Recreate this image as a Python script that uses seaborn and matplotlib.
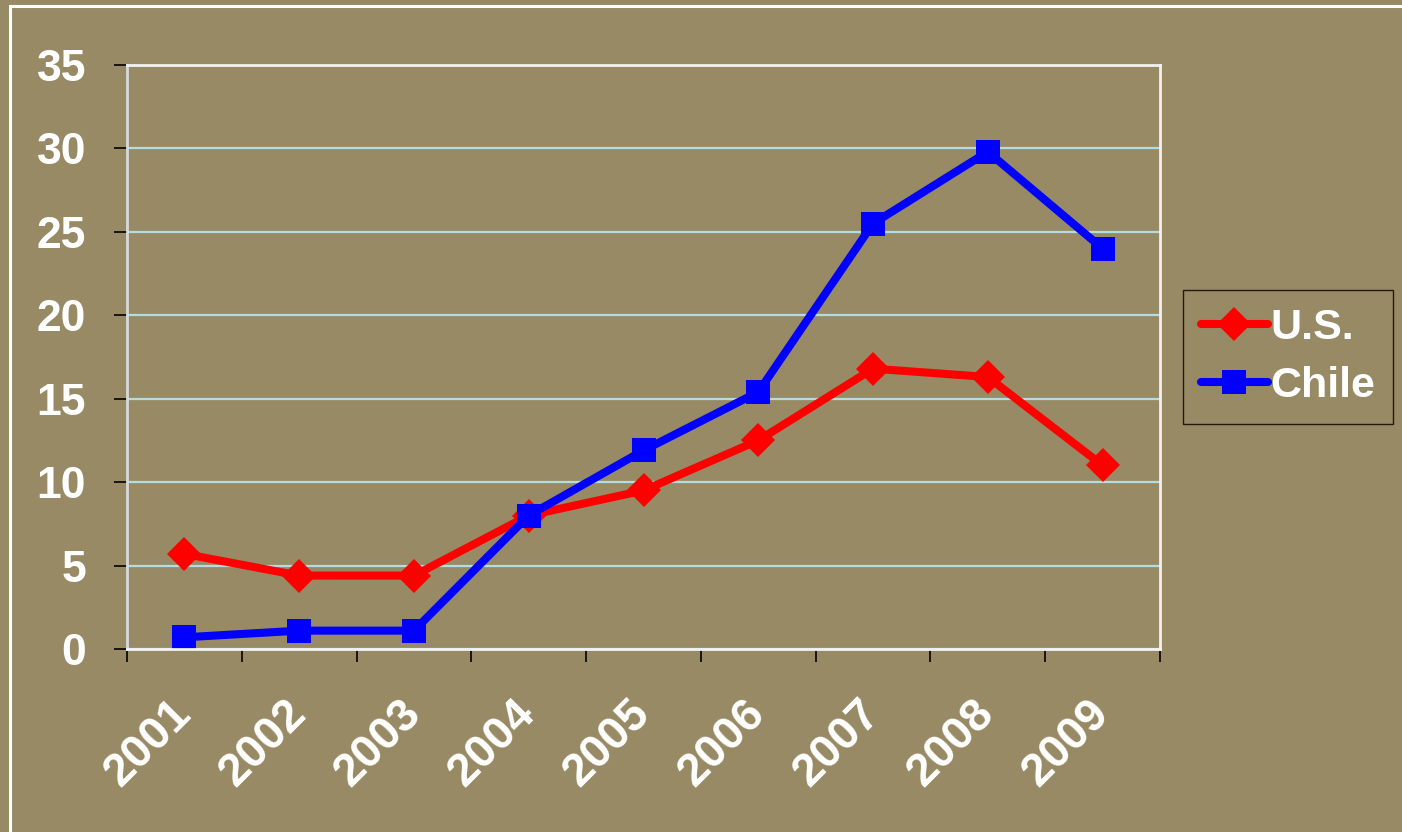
import pandas as pd
import matplotlib.pyplot as plt
import seaborn as sns
from matplotlib.patches import Rectangle

# 數據
years = ['2001', '2002', '2003', '2004', '2005', '2006', '2007', '2008', '2009']
us_values = [5.7, 4.4, 4.4, 8.0, 9.5, 12.5, 16.8, 16.3, 11.0]
chile_values = [0.7, 1.1, 1.1, 8.0, 11.9, 15.4, 25.5, 29.8, 24.0]

df = pd.DataFrame({
    'year': years * 2,
    'value': us_values + chile_values,
    'country': ['U.S.'] * len(years) + ['Chile'] * len(years),
})

bg = '#978a64'
sns.set_theme(style='white')
plt.rcParams['font.family'] = ['Liberation Sans', 'DejaVu Sans']
plt.rcParams['font.weight'] = 'bold'

fig = plt.figure(figsize=(14.02, 8.32), dpi=100, facecolor=bg)
ax = fig.add_axes([127 / 1402, 1 - 649 / 832, (1160 - 127) / 1402, (649 - 65) / 832])
ax.set_facecolor(bg)

sns.lineplot(data=df, x='year', y='value', hue='country', style='country',
             palette={'U.S.': '#ff0000', 'Chile': '#0000ff'},
             markers={'U.S.': 'D', 'Chile': 's'}, dashes=False,
             linewidth=5.8, markersize=17, markeredgewidth=0, ax=ax)

# 軸設定
ax.set_xlim(-0.5, len(years) - 0.5)
ax.set_ylim(0, 35)
ax.set_yticks(range(0, 36, 5))
ax.set_xlabel('')
ax.set_ylabel('')
ax.grid(axis='y', color='#b3dde2', linewidth=1.6)
ax.set_axisbelow(True)

for side in ['top', 'right', 'bottom']:
    ax.spines[side].set_color('#f2f2f2')
    ax.spines[side].set_linewidth(2)
ax.spines['left'].set_color('#d9d9d9')
ax.spines['left'].set_linewidth(2)

ax.tick_params(axis='y', direction='out', length=9.5, width=1.2, color='black',
               labelsize=32, labelcolor='white', pad=20, left=True)
ax.set_xticks(range(len(years)))
ax.set_xticklabels(years, rotation=45, ha='right', va='center', rotation_mode='anchor')
ax.tick_params(axis='x', which='major', length=0, labelsize=33, labelcolor='white', pad=42)
ax.set_xticks([i - 0.5 for i in range(len(years) + 1)], minor=True)
ax.tick_params(axis='x', which='minor', direction='out', length=9.5, width=1.2,
               color='black', bottom=True)
for lbl in ax.get_xticklabels() + ax.get_yticklabels():
    lbl.set_fontweight('bold')

# 圖例
leg = ax.legend(loc='upper left', bbox_to_anchor=(1183 / 1402, 1 - 290 / 832),
                bbox_transform=fig.transFigure, borderaxespad=0, frameon=True,
                fancybox=False, edgecolor='black', facecolor='none',
                prop={'size': 31, 'weight': 'bold'}, handlelength=1.55,
                handletextpad=0.05, labelspacing=0.42, borderpad=0.42)
leg.get_frame().set_linewidth(1)
for t in leg.get_texts():
    t.set_color('white')

# 外框
fig.patches.append(Rectangle((9.5 / 1402, -0.05), 1.2, 1 - 6 / 832 + 0.05,
                             transform=fig.transFigure, fill=False,
                             edgecolor='white', linewidth=2.2))

fig.savefig('out.png', dpi=100, facecolor=bg)
